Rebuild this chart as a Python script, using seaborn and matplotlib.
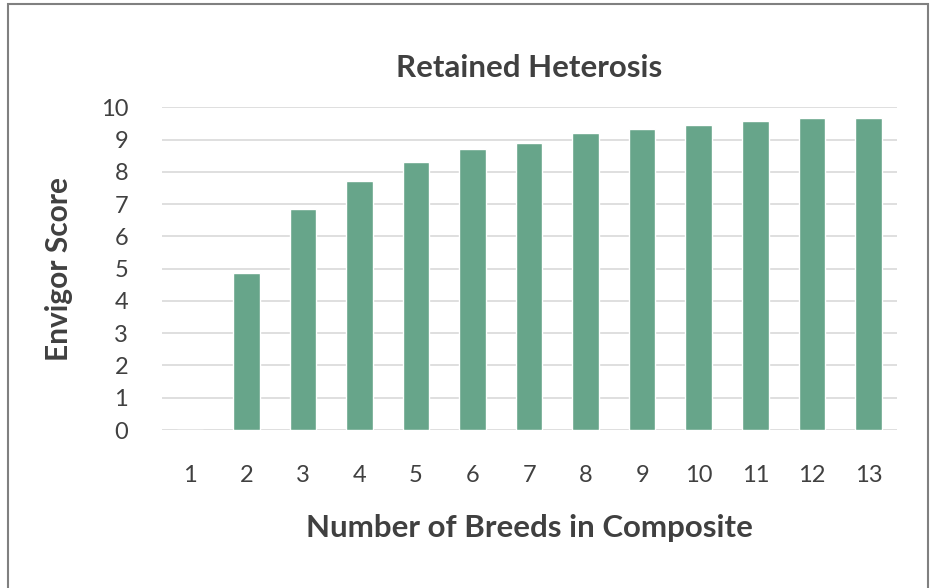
import matplotlib
matplotlib.use("Agg")
import matplotlib.pyplot as plt
import seaborn as sns
import pandas as pd
from matplotlib.patches import Rectangle

# dados
breeds = ['1', '2', '3', '4', '5', '6', '7', '8', '9', '10', '11', '12', '13']
envigor = [0, 4.85, 6.84, 7.73, 8.29, 8.70, 8.88, 9.19, 9.33, 9.46, 9.57, 9.67, 9.67]
yticks = list(range(0, 11))

sns.set_theme(style="white")
plt.rcParams['font.family'] = ['Lato', 'DejaVu Sans']

texto = '#404040'
verde = '#67a58a'

df = pd.DataFrame({'breeds': breeds, 'envigor': envigor})

fig = plt.figure(figsize=(9.34, 5.88), dpi=100)
ax = fig.add_axes([0.173, 0.2687, 0.787, 0.5488])

sns.barplot(data=df, x='breeds', y='envigor', color=verde, width=0.47,
            saturation=1, ax=ax, zorder=3)

ax.set_ylim(0, 10)
ax.set_yticks(yticks)
ax.grid(axis='y', color='#d9d9d9', linewidth=1.2, zorder=0)
ax.set_axisbelow(True)
for s in ax.spines.values():
    s.set_visible(False)

ax.tick_params(axis='x', length=0, pad=25, labelsize=17, labelcolor=texto)
ax.tick_params(axis='y', length=0, pad=24, labelsize=17, labelcolor=texto)

ax.set_title('Retained Heterosis', fontsize=22.5, fontweight='bold',
             color=texto, pad=22)
ax.set_xlabel('Number of Breeds in Composite', fontsize=22.5, fontweight='bold',
              color=texto, labelpad=20)
ax.set_ylabel('Envigor Score', fontsize=21.5, fontweight='bold',
              color=texto, labelpad=20)

# moldura cinza em volta da figura
fig.patches.append(Rectangle((8 / 934, -0.05), 919.5 / 934, 1 - 4 / 588 + 0.05,
                             transform=fig.transFigure, fill=False,
                             edgecolor='#808080', linewidth=1.5))

fig.savefig('out.png', dpi=100)
